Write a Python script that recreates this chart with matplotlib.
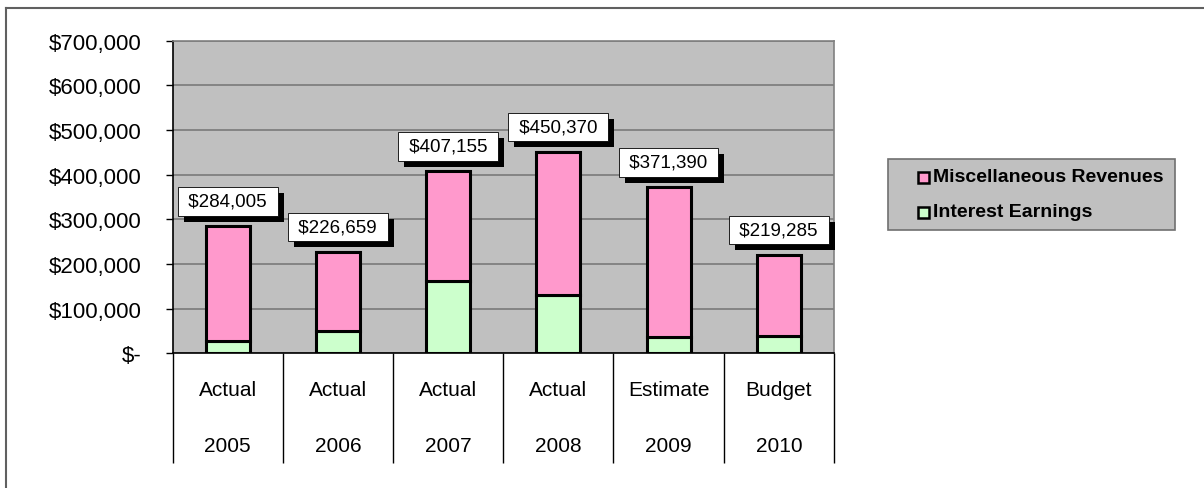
import matplotlib
matplotlib.use("Agg")
import numpy as np
import matplotlib.pyplot as plt
import matplotlib.patheffects as pe
from matplotlib.lines import Line2D
from matplotlib.patches import Rectangle
from matplotlib.ticker import FuncFormatter

# ---- data ----
stages = ["Actual", "Actual", "Actual", "Actual", "Estimate", "Budget"]
years = ["2005", "2006", "2007", "2008", "2009", "2010"]
interest = [28500, 49500, 162500, 131000, 36000, 39000]
misc = [255505, 177159, 244655, 319370, 335390, 180285]
totals = [284005, 226659, 407155, 450370, 371390, 219285]
series_names = ["Miscellaneous Revenues", "Interest Earnings"]

PINK = "#FF99CC"
GREEN = "#CCFFCC"
PLOT_BG = "#C0C0C0"
GRID = "#7A7A7A"

plt.rcParams.update({
    "font.family": ["Liberation Sans", "DejaVu Sans"],
})

W, H = 1204, 489
fig = plt.figure(figsize=(W / 100, H / 100), dpi=100)
left, right, top, bottom = 172.5, 834.0, 41.7, 354.3
ax = fig.add_axes([left / W, 1 - bottom / H, (right - left) / W, (bottom - top) / H])

x = np.arange(len(years))
ax.bar(x, interest, width=0.4, color=GREEN, edgecolor="black", linewidth=2.2,
       label=series_names[1], zorder=3)
ax.bar(x, misc, width=0.4, bottom=interest, color=PINK, edgecolor="black",
       linewidth=2.2, label=series_names[0], zorder=3)

# total labels with drop shadow
for xi, tot in zip(x, totals):
    t = ax.annotate(f" ${tot:,.0f} ", (xi, tot), xytext=(0, 18), textcoords="offset points",
                    ha="center", va="center", fontsize=13.5, zorder=6,
                    bbox=dict(boxstyle="square,pad=0.3", fc="white", ec="black", lw=0.6))
    t.get_bbox_patch().set_path_effects([
        pe.SimplePatchShadow(offset=(4.3, -4.3), shadow_rgbFace="black", alpha=1.0),
        pe.Normal(),
    ])

ax.set_facecolor(PLOT_BG)
ax.set_xlim(-0.5, len(years) - 0.5)
ax.set_ylim(0, 700000)
ax.set_yticks(np.arange(0, 700001, 100000))
ax.yaxis.set_major_formatter(FuncFormatter(lambda v, p: "$-" if v == 0 else f"${v:,.0f}"))
ax.tick_params(axis="y", length=5, width=1, pad=17, labelsize=16, direction="out")
ax.set_xticks([])
ax.grid(axis="y", color=GRID, linewidth=1.2, zorder=1)
ax.set_axisbelow(True)

for s in ["top", "right"]:
    ax.spines[s].set_color("#808080")
    ax.spines[s].set_linewidth(1.2)
for s in ["left", "bottom"]:
    ax.spines[s].set_color("black")
    ax.spines[s].set_linewidth(1.2)

# category table below the axis
xt = ax.get_xaxis_transform()
sep_bottom = -(464 - bottom) / (bottom - top)
ax.vlines(np.arange(len(years) + 1) - 0.5, sep_bottom, 0, transform=xt,
          colors="black", linewidth=1.0, clip_on=False)
y_stage = -(391 - bottom) / (bottom - top)
y_year = -(447 - bottom) / (bottom - top)
for xi, st, yr in zip(x, stages, years):
    ax.text(xi, y_stage, st, transform=xt, ha="center", va="center", fontsize=15)
    ax.text(xi, y_year, yr, transform=xt, ha="center", va="center", fontsize=15)

# legend, drawn in figure pixels
def fx(px):
    return px / W

def fy(py):
    return 1 - py / H

fig.add_artist(Rectangle((fx(887.5), fy(230.7)), fx(1175) - fx(887.5), fy(160) - fy(230.7),
                         transform=fig.transFigure, facecolor=PLOT_BG, edgecolor="#707070",
                         linewidth=1.2))
for name, col, cy in zip(series_names, [PINK, GREEN], [178, 213]):
    fig.add_artist(Rectangle((fx(918), fy(cy + 5.5)), fx(11), 11 / H,
                             transform=fig.transFigure, facecolor=col, edgecolor="black",
                             linewidth=1.8))
    fig.text(fx(933), fy(cy), name, ha="left", va="center", fontsize=14, fontweight="bold")

# outer chart frame (left + top edges)
fig.add_artist(Line2D([5.5 / W, 5.5 / W], [0, 1 - 9 / H], color="#606060", lw=1.5,
                      transform=fig.transFigure))
fig.add_artist(Line2D([5.5 / W, 1], [1 - 9 / H, 1 - 9 / H], color="#606060", lw=1.5,
                      transform=fig.transFigure))

fig.savefig("out.png", dpi=100)
